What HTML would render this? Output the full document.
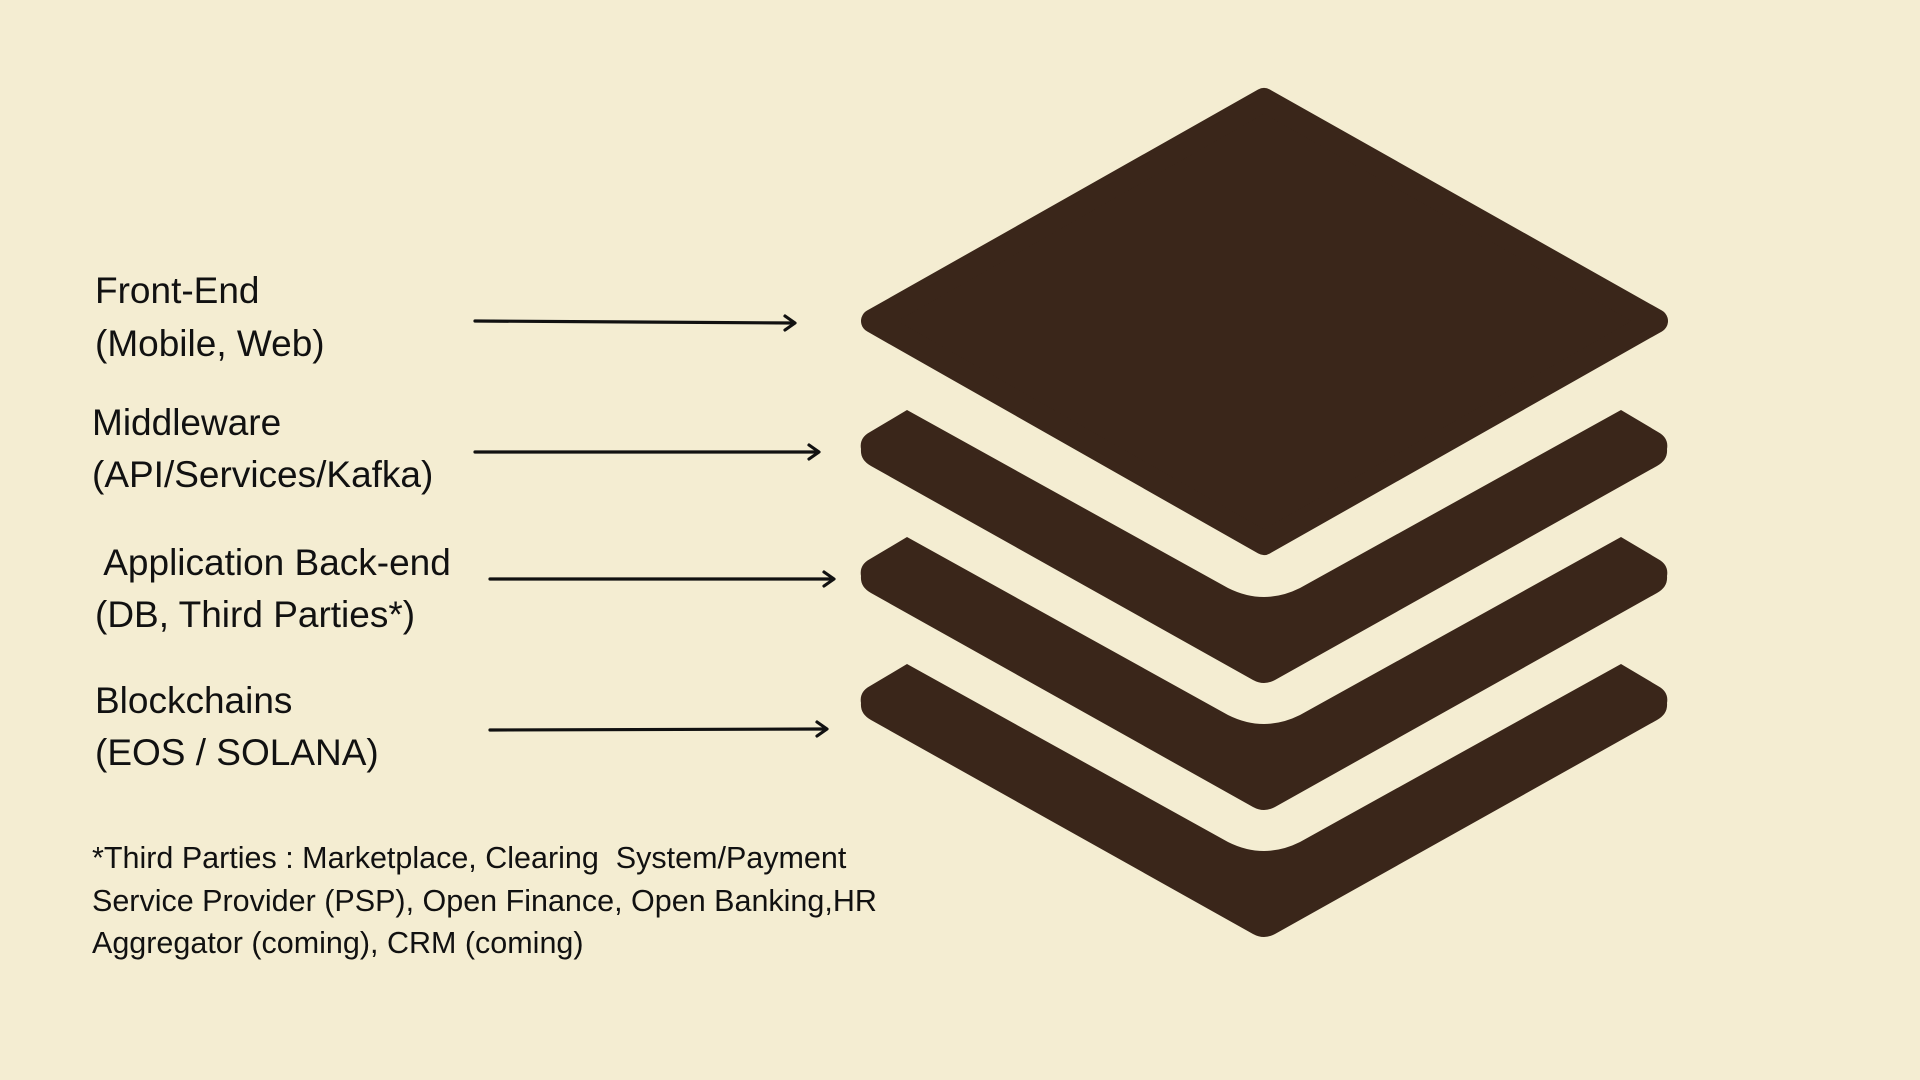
<!DOCTYPE html>
<html><head><meta charset="utf-8"><style>
html,body{margin:0;padding:0;}
body{width:1920px;height:1080px;background:#f4edd2;position:relative;overflow:hidden;font-family:"Liberation Sans",sans-serif;color:#111;}
.t{position:absolute;font-size:37px;line-height:42px;white-space:pre;}
.f{position:absolute;font-size:30.5px;line-height:34px;white-space:pre;}
svg{position:absolute;left:0;top:0;}
</style></head><body>
<svg width="1920" height="1080" viewBox="0 0 1920 1080">
<g fill="#3a261a" stroke="#3a261a" stroke-width="24" stroke-linejoin="round">
<path d="M1264,100 L1656,321 L1264,543 L873,321 Z"/>
</g>
<g fill="#3a261a">
<path id="c" d="M861,449 Q859,438 870,432 L907,410 L1228,588 Q1264,606 1300,588 L1621,410 L1658,432 Q1669,438 1667,449 Q1668,460 1657,466 L1275,680 Q1264,686 1253,680 L871,466 Q860,460 861,449 Z"/>
<use href="#c" transform="translate(0,127)"/>
<use href="#c" transform="translate(0,254)"/>
</g>
<g stroke="#111" stroke-width="3.2" fill="none" stroke-linecap="round" stroke-linejoin="round">
<path d="M475,321 L794,323"/><path d="M785,316 L795,323 L785,330"/>
<path d="M475,452 L818,452"/><path d="M809,445 L819,452 L809,459"/>
<path d="M490,579 L833,579"/><path d="M824,572 L834,579 L824,586"/>
<path d="M490,730 L826,729"/><path d="M817,722 L827,729 L817,736"/>
</g>
</svg>
<div class="t" style="left:95px;top:270px">Front-End</div>
<div class="t" style="left:95px;top:323px">(Mobile, Web)</div>
<div class="t" style="left:92px;top:402px">Middleware</div>
<div class="t" style="left:92px;top:454px">(API/Services/Kafka)</div>
<div class="t" style="left:95px;top:542px"> Application Back-end</div>
<div class="t" style="left:95px;top:594px">(DB, Third Parties*)</div>
<div class="t" style="left:95px;top:680px">Blockchains</div>
<div class="t" style="left:95px;top:732px">(EOS / SOLANA)</div>
<div class="f" style="left:92px;top:841px">*Third Parties : Marketplace, Clearing  System/Payment</div>
<div class="f" style="left:92px;top:884px">Service Provider (PSP), Open Finance, Open Banking,HR</div>
<div class="f" style="left:92px;top:926px">Aggregator (coming), CRM (coming)</div>
</body></html>
